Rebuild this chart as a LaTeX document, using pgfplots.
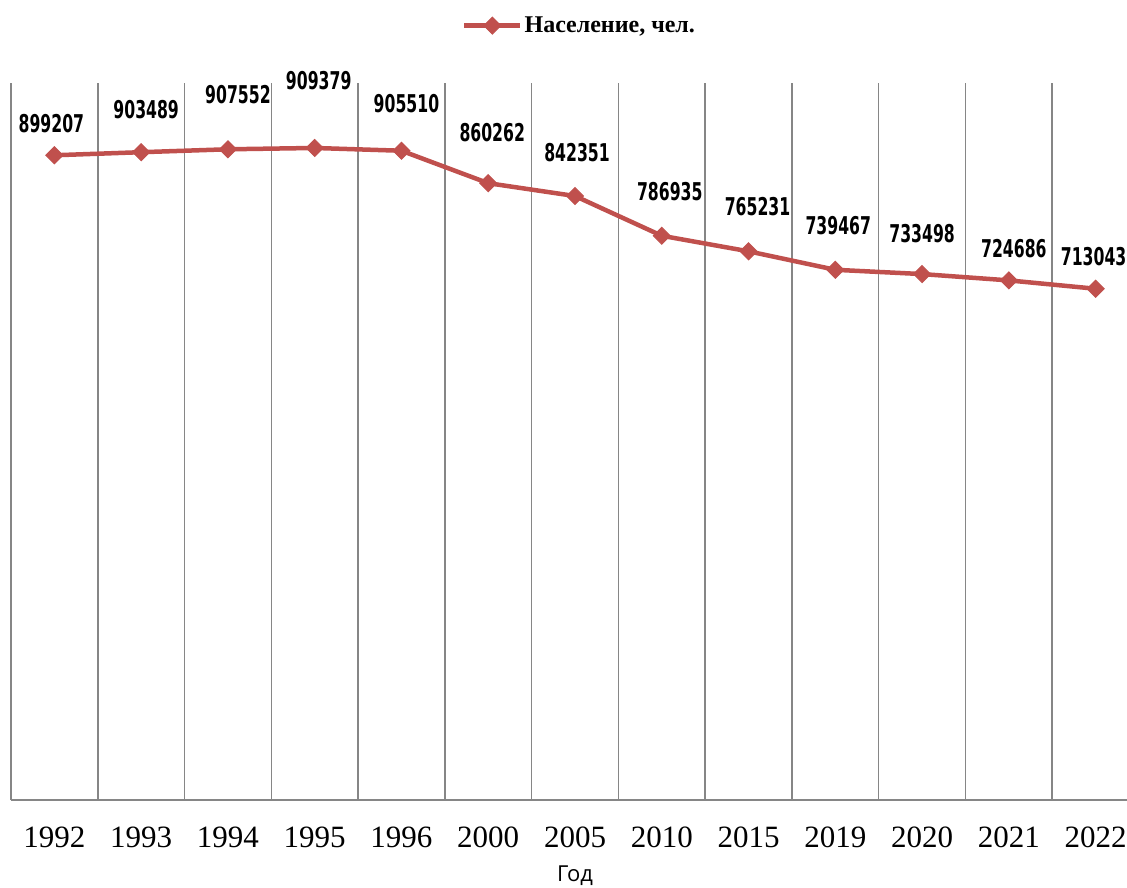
\documentclass[border=0pt]{standalone}
\usepackage{pgfplots}
\pgfplotsset{compat=1.18}
\usepackage{pgfplotstable}
\usepackage{fontspec}
\setmainfont{Liberation Serif}
\newfontfamily\lblfont{DejaVu Sans}[FakeStretch=0.64]
\newfontfamily\gfont{Open Sans}
\definecolor{ser}{RGB}{192,80,77}
\definecolor{gr}{RGB}{134,134,134}
\pgfplotstableread{
x y off xo lbl
0 899207 32 -3 899207
1 903489 43 5 903489
2 907552 55 10 907552
3 909379 67 4 909379
4 905510 47 5 905510
5 860262 51 4 860262
6 842351 43 2 842351
7 786935 44 8 786935
8 765231 45 9 765231
9 739467 44 3 739467
10 733498 40 0 733498
11 724686 32 5 724686
12 713043 32 -2 713043
}\data
\begin{document}
\begin{tikzpicture}
\useasboundingbox (0,0) rectangle (1127pt,887pt);
\begin{axis}[
  at={(11pt,87pt)}, anchor=south west,
  scale only axis, width=1128pt, height=717pt,
  xmin=-0.5, xmax=12.5, ymin=0, ymax=1000000,
  axis x line*=bottom, axis y line*=left,
  axis line style={gr, line width=1.5pt},
  ytick=\empty,
  xtick={0,...,12},
  xticklabels={1992,1993,1994,1995,1996,2000,2005,2010,2015,2019,2020,2021,2022},
  minor xtick={0.5,1.5,...,11.5},
  xminorgrids=true,
  minor grid style={gr, line width=1.5pt},
  major tick length=0pt, minor tick length=0pt,
  xticklabel style={font=\fontsize{31}{36}\selectfont, yshift=-23pt},
  xlabel={\gfont\fontsize{22}{26}\selectfont Год},
  xlabel style={at={(axis description cs:0.5,0)}, anchor=center, yshift=-76pt},
  clip=false,
  legend style={at={(axis description cs:0.504,1.08)}, anchor=center, draw=none, fill=none,
    font=\bfseries\fontsize{24}{28}\selectfont},
  legend image code/.code={\draw[mark repeat=2,mark phase=2] plot coordinates {(0pt,0pt) (28pt,0pt) (56pt,0pt)};},
]
\addplot[color=ser, line width=4.5pt, mark=square*, mark size=6pt,
  mark options={rotate=45, solid, fill=ser, draw=ser, line width=1pt},
  point meta=explicit symbolic,
  visualization depends on={\thisrow{off} \as \yoff},
  visualization depends on={\thisrow{xo} \as \xoff},
  nodes near coords,
  nodes near coords style={anchor=center, yshift=\yoff pt, xshift=\xoff pt, text=black,
    font=\lblfont\bfseries\fontsize{24.5}{26}\selectfont},
] table[x=x, y=y, meta=lbl] {\data};
\addlegendentry{Население, чел.}
\end{axis}
\end{tikzpicture}
\end{document}
